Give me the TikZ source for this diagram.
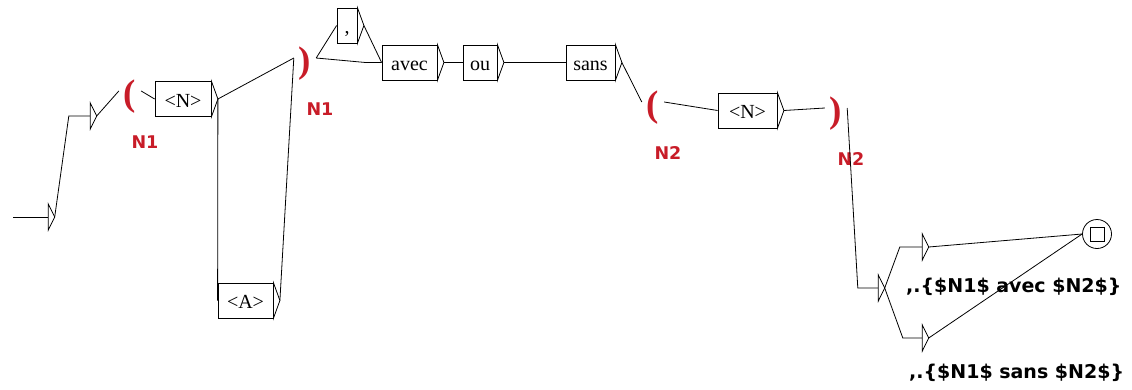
\documentclass[tikz,border=0pt]{standalone}
\usepackage{fontspec}
\setmainfont{Liberation Serif}
\newfontfamily\labelfont{DejaVu Sans}
\usetikzlibrary{positioning}
\definecolor{varred}{HTML}{C81C28}

\begin{document}
\begin{tikzpicture}[x=1pt,y=-1pt,
  box/.style={draw,line width=0.8pt,inner sep=0pt,minimum height=35pt,
    text height=20pt,text depth=4pt,font=\fontsize{20}{24}\selectfont},
  gate/.style={inner sep=0pt,minimum width=0pt,minimum height=26pt},
  paren/.style={inner sep=0pt,minimum width=22pt,text=varred,
    font=\bfseries\fontsize{37}{40}\selectfont},
  varname/.style={inner sep=0pt,text=varred,
    font=\labelfont\bfseries\fontsize{17.5}{20}\selectfont},
  outtext/.style={anchor=west,inner sep=0pt,
    font=\labelfont\bfseries\fontsize{19}{22}\selectfont},
  tr/.style={line width=0.8pt}
]
\useasboundingbox (0,0) rectangle (1132,389);
\coordinate (start) at (13,217);
\node[gate] (init) at (48,217) {};
\node[gate] (e1) at (90,116) {};
\node[paren] (lp1) at (130,97) {(};
\node[box,minimum width=56pt] (n1) at (183,99) {<N>};
\node[box,minimum width=55pt] (adj) at (245.5,300.5) {<A>};
\node[paren] (rp1) at (305,64) {)};
\node[box,minimum width=20pt] (comma) at (347,25.5) {,};
\node[box,minimum width=55pt] (avec) at (409.5,62.5) {avec};
\node[box,minimum width=34pt] (ou) at (480,62.5) {ou};
\node[box,minimum width=49pt] (sans) at (590.5,62.5) {sans};
\node[paren] (lp2) at (653,108) {(};
\node[box,minimum width=59pt] (n2) at (747.5,110.5) {<N>};
\node[paren] (rp2) at (836,114) {)};
\node[gate] (e2) at (878,288) {};
\node[gate] (e3) at (922,247) {};
\node[gate] (e4) at (922,338) {};
\node[draw,circle,line width=0.8pt,minimum size=29pt,inner sep=0pt] (fin) at (1097,234) {};
\draw[tr] ([shift={(-7,-7)}]fin.center) rectangle ([shift={(7,7)}]fin.center);

\foreach \p/\t in {lp1/N1,rp1/N1,lp2/N2,rp2/N2}
  \node[varname] (\p-v) at ([shift={(15,45)}]\p.center) {\t};
\node[outtext] (o1) at (906,287) {,.\{\$N1\$ avec \$N2\$\}};
\node[outtext] (o2) at (909,373) {,.\{\$N1\$ sans \$N2\$\}};

\foreach \b in {init,e1,n1,adj,comma,avec,ou,sans,n2,e2,e3,e4}
  \draw[tr] (\b.north east) -- ([xshift=6.5pt]\b.east) coordinate (\b-x) -- (\b.south east) -- cycle;

\draw[tr] (start) -- (init.west);
\draw[tr] (init-x) -- ([xshift=-21pt]e1.west) -- (e1.west);
\draw[tr] (e1-x) -- ([yshift=6pt]lp1.west);
\draw[tr] ([yshift=6pt]lp1.east) -- (n1.west);
\draw[tr] (n1-x) -- ([yshift=6pt]rp1.west);
\draw[tr] (n1-x) -- (adj.west);
\draw[tr] (adj-x) -- ([yshift=6pt]rp1.west);
\draw[tr] ([yshift=6pt]rp1.east) -- (comma.west);
\draw[tr] ([yshift=6pt]rp1.east) -- ([xshift=-16pt]avec.west) -- (avec.west);
\draw[tr] (comma-x) -- (avec.west);
\draw[tr] (avec-x) -- (ou.west);
\draw[tr] (ou-x) -- (sans.west);
\draw[tr] (sans-x) -- ([yshift=6pt]lp2.west);
\draw[tr] ([yshift=6pt]lp2.east) -- (n2.west);
\draw[tr] (n2-x) -- ([yshift=6pt]rp2.west);
\draw[tr] ([yshift=6pt]rp2.east) -- ([xshift=-20pt]e2.west) -- (e2.west);
\draw[tr] (e2-x) -- ([xshift=-22pt]e3.west) -- (e3.west);
\draw[tr] (e2-x) -- ([xshift=-19pt]e4.west) -- (e4.west);
\draw[tr] (e3-x) -- (fin.west);
\draw[tr] (e4-x) -- (fin.west);
\end{tikzpicture}
\end{document}
